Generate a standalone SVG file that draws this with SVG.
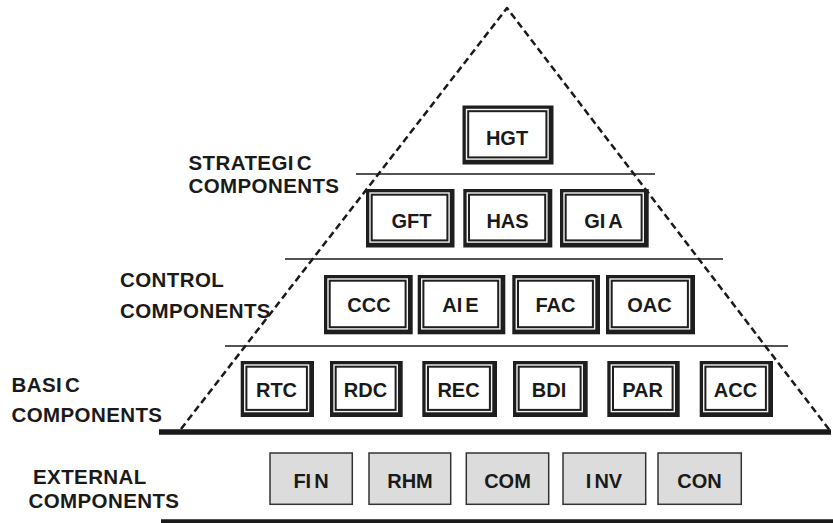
<svg xmlns="http://www.w3.org/2000/svg" width="833" height="523" viewBox="0 0 833 523">
  <style>
    text { font-family: "Liberation Sans", Arial, sans-serif; font-weight: bold; fill: #1a1a1a; }
    .lbl { font-size: 20.5px; letter-spacing: 0.4px; }
    .box-txt { font-size: 20px; text-anchor: middle; }
    .frame { fill: #1e1e1e; }
    .gap { fill: #f2f2f2; }
    .face { fill: #ffffff; stroke: #1e1e1e; stroke-width: 2; }
    .ext { fill: #dcdcdc; stroke: #333333; stroke-width: 1.5; }
    .tier { stroke: #1a1a1a; stroke-width: 1.6; fill: none; }
    .base { stroke: #1a1a1a; stroke-width: 5.5; fill: none; }
    .outline { stroke: #1a1a1a; stroke-width: 2.5; stroke-dasharray: 7 4; fill: none; stroke-linejoin: round; }
  </style>

  <rect width="833" height="523" fill="#ffffff"/>

  <!-- tier dividers and base lines -->
  <g id="connectors">
    <line class="tier" x1="356" y1="174" x2="655" y2="174"/>
    <line class="tier" x1="285" y1="259" x2="723" y2="259"/>
    <line class="tier" x1="225" y1="346" x2="788" y2="346"/>
    <line class="base" x1="159" y1="432" x2="831" y2="432"/>
    <line class="base" x1="161" y1="521.5" x2="833" y2="521.5" style="stroke-width:4.5"/>
    <!-- dashed pyramid outline -->
    <polyline class="outline" points="181,429 507,8 831,432"/>
  </g>

  <!-- tier labels -->
  <g id="labels">
    <text class="lbl" x="188.5" y="170">STRATEGI<tspan dx="3">C</tspan></text>
    <text class="lbl" x="188.5" y="193">COMPONENTS</text>
    <text class="lbl" x="120" y="287">CONTROL</text>
    <text class="lbl" x="120" y="317.5">COMPONENTS</text>
    <text class="lbl" x="11.5" y="392">BASI<tspan dx="3">C</tspan></text>
    <text class="lbl" x="11.5" y="421.5">COMPONENTS</text>
    <text class="lbl" x="33" y="484">EXTERNAL</text>
    <text class="lbl" x="28.5" y="508">COMPONENTS</text>
  </g>

  <!-- strategic tier -->
  <g id="HGT">
    <rect class="frame" x="462.5" y="105.5" width="91" height="59"/>
    <rect class="gap" x="465.8" y="108.8" width="83" height="51"/>
    <rect class="face" x="468.2" y="111.2" width="78.2" height="46.2"/>
    <text class="box-txt" x="507" y="145">HGT</text>
  </g>
  <g id="GFT">
    <rect class="frame" x="366" y="189" width="88.5" height="58.5"/>
    <rect class="gap" x="369.3" y="192.3" width="80.5" height="50.5"/>
    <rect class="face" x="371.7" y="194.7" width="75.7" height="45.7"/>
    <text class="box-txt" x="411.5" y="228">GFT</text>
  </g>
  <g id="HAS">
    <rect class="frame" x="463.3" y="189" width="89" height="58.5"/>
    <rect class="gap" x="466.6" y="192.3" width="81" height="50.5"/>
    <rect class="face" x="469" y="194.7" width="76.2" height="45.7"/>
    <text class="box-txt" x="507.5" y="228">HAS</text>
  </g>
  <g id="GIA">
    <rect class="frame" x="560" y="189" width="88.7" height="58.5"/>
    <rect class="gap" x="563.3" y="192.3" width="80.7" height="50.5"/>
    <rect class="face" x="565.7" y="194.7" width="75.9" height="45.7"/>
    <text class="box-txt" x="603.5" y="228">GI<tspan dx="3">A</tspan></text>
  </g>

  <!-- control tier -->
  <g id="CCC">
    <rect class="frame" x="324" y="275" width="88.7" height="59.3"/>
    <rect class="gap" x="327.3" y="278.3" width="80.7" height="51.3"/>
    <rect class="face" x="329.7" y="280.7" width="75.9" height="46.5"/>
    <text class="box-txt" x="369" y="312">CCC</text>
  </g>
  <g id="AIE">
    <rect class="frame" x="417.7" y="275" width="87.6" height="59.3"/>
    <rect class="gap" x="421" y="278.3" width="79.6" height="51.3"/>
    <rect class="face" x="423.4" y="280.7" width="74.8" height="46.5"/>
    <text class="box-txt" x="460.5" y="312">AI<tspan dx="3">E</tspan></text>
  </g>
  <g id="FAC">
    <rect class="frame" x="512.3" y="275" width="87.7" height="59.3"/>
    <rect class="gap" x="515.6" y="278.3" width="79.7" height="51.3"/>
    <rect class="face" x="518" y="280.7" width="74.9" height="46.5"/>
    <text class="box-txt" x="555.5" y="312">FAC</text>
  </g>
  <g id="OAC">
    <rect class="frame" x="606" y="275" width="89" height="59.3"/>
    <rect class="gap" x="609.3" y="278.3" width="81" height="51.3"/>
    <rect class="face" x="611.7" y="280.7" width="76.2" height="46.5"/>
    <text class="box-txt" x="649.5" y="312">OAC</text>
  </g>

  <!-- basic tier -->
  <g id="RTC">
    <rect class="frame" x="240.7" y="361" width="73.3" height="56"/>
    <rect class="gap" x="244" y="364.3" width="65.3" height="48"/>
    <rect class="face" x="246.4" y="366.7" width="60.5" height="43.2"/>
    <text class="box-txt" x="276.5" y="396.5">RTC</text>
  </g>
  <g id="RDC">
    <rect class="frame" x="330" y="361" width="72.7" height="56"/>
    <rect class="gap" x="333.3" y="364.3" width="64.7" height="48"/>
    <rect class="face" x="335.7" y="366.7" width="59.9" height="43.2"/>
    <text class="box-txt" x="365.5" y="396.5">RDC</text>
  </g>
  <g id="REC">
    <rect class="frame" x="422.3" y="361" width="74.7" height="56"/>
    <rect class="gap" x="425.6" y="364.3" width="66.7" height="48"/>
    <rect class="face" x="428" y="366.7" width="61.9" height="43.2"/>
    <text class="box-txt" x="458.5" y="396.5">REC</text>
  </g>
  <g id="BDI">
    <rect class="frame" x="513" y="361" width="74.7" height="56"/>
    <rect class="gap" x="516.3" y="364.3" width="66.7" height="48"/>
    <rect class="face" x="518.7" y="366.7" width="61.9" height="43.2"/>
    <text class="box-txt" x="549" y="396.5">BDI</text>
  </g>
  <g id="PAR">
    <rect class="frame" x="607.3" y="361" width="72.4" height="56"/>
    <rect class="gap" x="610.6" y="364.3" width="64.4" height="48"/>
    <rect class="face" x="613" y="366.7" width="59.6" height="43.2"/>
    <text class="box-txt" x="642.5" y="396.5">PAR</text>
  </g>
  <g id="ACC">
    <rect class="frame" x="699.7" y="361" width="73.3" height="56"/>
    <rect class="gap" x="703" y="364.3" width="65.3" height="48"/>
    <rect class="face" x="705.4" y="366.7" width="60.5" height="43.2"/>
    <text class="box-txt" x="735.5" y="396.5">ACC</text>
  </g>

  <!-- external tier -->
  <g id="FIN">
    <rect class="ext" x="270" y="453" width="82.3" height="51.3"/>
    <text class="box-txt" x="311" y="488">FI<tspan dx="3">N</tspan></text>
  </g>
  <g id="RHM">
    <rect class="ext" x="369" y="453" width="81.7" height="51.3"/>
    <text class="box-txt" x="410" y="488">RHM</text>
  </g>
  <g id="COM">
    <rect class="ext" x="466.3" y="453" width="82.4" height="51.3"/>
    <text class="box-txt" x="507.5" y="488">COM</text>
  </g>
  <g id="INV">
    <rect class="ext" x="563" y="453" width="82.7" height="51.3"/>
    <text class="box-txt" x="604" y="488">I<tspan dx="3">NV</tspan></text>
  </g>
  <g id="CON">
    <rect class="ext" x="658" y="453" width="83.3" height="51.3"/>
    <text class="box-txt" x="699.5" y="488">CON</text>
  </g>
</svg>
